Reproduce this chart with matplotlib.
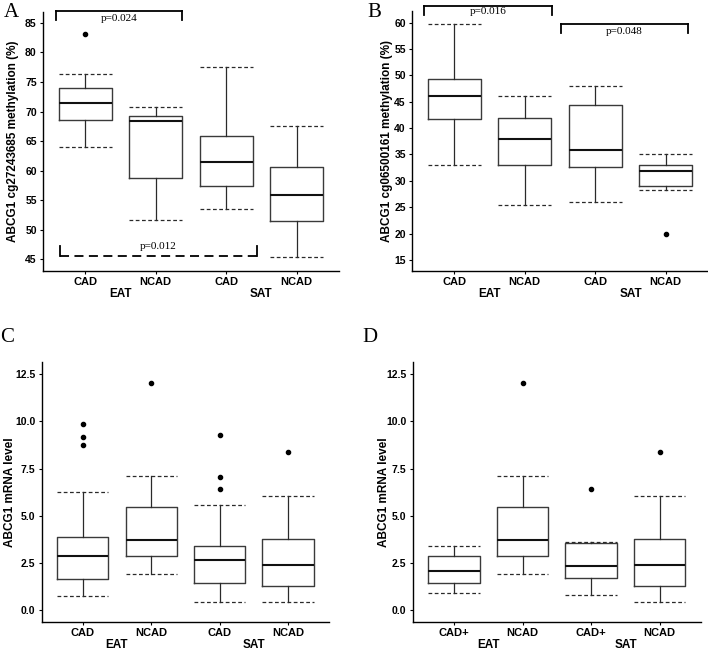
"""ABCG1 methylation / mRNA box plots in EAT and SAT (panels A-D)."""

import matplotlib

matplotlib.use("Agg")
import matplotlib.pyplot as plt
from matplotlib.ticker import FormatStrFormatter

SANS = ["Liberation Sans", "DejaVu Sans"]
SERIF = ["Liberation Serif", "DejaVu Serif"]

# five-number summaries: lower whisker, Q1, median, Q3, upper whisker
groups = ["EAT", "SAT"]
labels_abc = ["CAD", "NCAD", "CAD", "NCAD"]
labels_d = ["CAD+", "NCAD", "CAD+", "NCAD"]

a_low = [64.0, 51.6, 53.45, 45.3]
a_q1 = [68.6, 58.8, 57.4, 51.5]
a_med = [71.5, 68.4, 61.5, 55.8]
a_q3 = [74.05, 69.3, 65.8, 60.6]
a_high = [76.4, 70.8, 77.55, 67.55]
a_fliers = [[83.1], [], [], []]

b_low = [33.0, 25.35, 25.95, 28.2]
b_q1 = [41.65, 33.0, 32.7, 28.95]
b_med = [46.15, 37.9, 35.9, 31.85]
b_q3 = [49.3, 41.9, 44.3, 33.0]
b_high = [59.75, 46.0, 48.0, 35.0]
b_fliers = [[], [], [], [19.9]]

c_low = [0.76, 1.94, 0.42, 0.42]
c_q1 = [1.64, 2.88, 1.45, 1.29]
c_med = [2.86, 3.73, 2.65, 2.42]
c_q3 = [3.89, 5.48, 3.41, 3.75]
c_high = [6.28, 7.13, 5.59, 6.03]
c_fliers = [[9.87, 9.18, 8.77], [12.02], [9.30, 7.04, 6.40], [8.36]]

d_low = [0.92, 1.94, 0.83, 0.42]
d_q1 = [1.47, 2.88, 1.71, 1.29]
d_med = [2.10, 3.73, 2.33, 2.42]
d_q3 = [2.85, 5.48, 3.57, 3.75]
d_high = [3.41, 7.13, 3.62, 6.03]
d_fliers = [[], [12.02], [6.40], [8.36]]


def draw_panel(ax, low, q1, med, q3, high, fliers, ticklabels, ylabel, label_x):
    stats = [
        dict(whislo=lo, q1=a, med=m, q3=b, whishi=hi, fliers=f)
        for lo, a, m, b, hi, f in zip(low, q1, med, q3, high, fliers)
    ]
    ax.bxp(
        stats,
        positions=[1, 2, 3, 4],
        widths=0.75,
        capwidths=0.75,
        showfliers=True,
        boxprops=dict(color="#3a3a3a", linewidth=1.0),
        medianprops=dict(color="#111111", linewidth=1.5),
        whiskerprops=dict(color="#2a2a2a", linewidth=0.9),
        capprops=dict(color="#2a2a2a", linewidth=0.9, linestyle=(0, (3, 2))),
        flierprops=dict(marker="o", markersize=3, markerfacecolor="black",
                        markeredgecolor="black"),
    )
    ax.set_xlim(0.4, 4.6)
    ax.set_xticks([1, 2, 3, 4])
    ax.set_xticklabels(ticklabels, fontsize=8, fontweight="bold", family=SANS)
    ax.set_ylabel(ylabel, fontsize=8.5, fontweight="bold", family=SANS)
    ax.yaxis.set_label_coords(label_x, 0.5)
    ax.yaxis.label.set_va("center")
    ax.tick_params(length=2.5, width=0.8, pad=2)
    ax.spines[["top", "right"]].set_visible(False)
    for s in ("left", "bottom"):
        ax.spines[s].set_linewidth(1.0)
    for x, g in zip([1.5, 3.5], groups):
        ax.text(x, -0.087, g, transform=ax.get_xaxis_transform(), ha="center",
                va="center", fontsize=8.5, fontweight="bold", family=SANS)


def style_yticks(ax):
    for lab in ax.get_yticklabels():
        lab.set_fontweight("bold")
        lab.set_fontsize(7.5)
        lab.set_family(SANS)


def bracket(ax, x0, x1, y, ytick, text, ytext, dashed=False):
    ls = (0, (5, 3)) if dashed else "-"
    ax.plot([x0, x1], [y, y], color="black", linewidth=1.3, linestyle=ls, clip_on=False)
    ax.plot([x0, x0], [y, ytick], color="black", linewidth=1.3, clip_on=False)
    ax.plot([x1, x1], [y, ytick], color="black", linewidth=1.3, clip_on=False)
    ax.text((x0 + x1) / 2, ytext, text, ha="center", va="center",
            fontsize=8, family=SERIF)


fig = plt.figure(figsize=(7.08, 6.5), dpi=100)
ax_a = fig.add_axes([0.0607, 0.583, 0.418, 0.399])
ax_b = fig.add_axes([0.582, 0.583, 0.418, 0.400])
ax_c = fig.add_axes([0.0589, 0.043, 0.406, 0.400])
ax_d = fig.add_axes([0.583, 0.043, 0.407, 0.400])

draw_panel(ax_a, a_low, a_q1, a_med, a_q3, a_high, a_fliers, labels_abc,
           "ABCG1 cg27243685 methylation (%)", -0.101)
ax_a.set_ylim(43.0, 86.9)
ax_a.set_yticks(range(45, 86, 5))
style_yticks(ax_a)
bracket(ax_a, 0.58, 2.38, 87.0, 85.55, "p=0.024", 85.7)
bracket(ax_a, 0.64, 3.44, 45.5, 47.2, "p=0.012", 47.1, dashed=True)

draw_panel(ax_b, b_low, b_q1, b_med, b_q3, b_high, b_fliers, labels_abc,
           "ABCG1 cg06500161 methylation (%)", -0.085)
ax_b.set_ylim(12.9, 62.2)
ax_b.set_yticks(range(15, 61, 5))
style_yticks(ax_b)
bracket(ax_b, 0.575, 2.38, 63.2, 61.5, "p=0.016", 62.1)
bracket(ax_b, 2.51, 4.31, 59.75, 57.97, "p=0.048", 58.4)

for ax, lows, q1s, meds, q3s, highs, fl, labs, lx in [
    (ax_c, c_low, c_q1, c_med, c_q3, c_high, c_fliers, labels_abc, -0.110),
    (ax_d, d_low, d_q1, d_med, d_q3, d_high, d_fliers, labels_d, -0.101),
]:
    draw_panel(ax, lows, q1s, meds, q3s, highs, fl, labs, "ABCG1 mRNA level", lx)
    ax.set_ylim(-0.62, 13.14)
    ax.set_yticks([0, 2.5, 5, 7.5, 10, 12.5])
    ax.yaxis.set_major_formatter(FormatStrFormatter("%.1f"))
    style_yticks(ax)

for x, y, letter in [(0.005, 0.995, "A"), (0.519, 0.995, "B"),
                     (0.0, 0.495, "C"), (0.512, 0.495, "D")]:
    fig.text(x, y, letter, ha="left", va="top", fontsize=15, family=SERIF)

fig.savefig("out.png", dpi=100)
plt.close(fig)
